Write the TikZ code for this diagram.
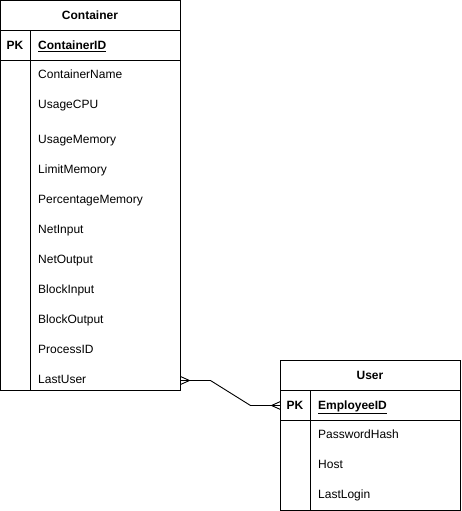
\documentclass[tikz,border=0pt]{standalone}
\usepackage{fontspec}
\setmainfont{Liberation Sans}
\usetikzlibrary{calc}

\tikzset{
  attr/.style={anchor=base west, inner sep=0pt, yshift=-4.3pt},
  keyattr/.style={attr, font=\fontsize{12}{14}\selectfont\bfseries},
  title/.style={anchor=base, inner sep=0pt, yshift=-4.3pt, font=\fontsize{12}{14}\selectfont\bfseries},
  edge/.style={line width=0.9pt}
}

\begin{document}
\begin{tikzpicture}[x=1pt, y=-1pt, font=\fontsize{12}{14}\selectfont]

\useasboundingbox (0,0) rectangle (462,511);

% ---- Coordinates ----
\coordinate (C0) at (0.5,0.5);      % container top left
\coordinate (C9) at (180.5,390.5);  % container bottom right
\coordinate (U0) at (280.5,360.5);  % user top left
\coordinate (U9) at (460.5,510.5);  % user bottom right

% ---- Container table ----
\draw[edge] (C0) rectangle (C9);
\draw[edge] (0.5,30.5) -- (180.5,30.5);
\draw[edge] (0.5,60.5) -- (180.5,60.5);
\draw[edge] (30.5,30.5) -- (30.5,390.5);

\node[title] (ctitle) at (90,15) {Container};
\node[title] (cpk) at (15,45) {PK};
\node[keyattr] (cid) at (38,45) {\underline{ContainerID}};

\foreach \name/\y in {ContainerName/74, UsageCPU/104, UsageMemory/139,
    LimitMemory/169, PercentageMemory/199, NetInput/229, NetOutput/259,
    BlockInput/289, BlockOutput/319, ProcessID/349, LastUser/379}
  \node[attr] (c-\name) at (38,\y) {\name};

% ---- User table ----
\draw[edge] (U0) rectangle (U9);
\draw[edge] (280.5,390.5) -- (460.5,390.5);
\draw[edge] (280.5,420.5) -- (460.5,420.5);
\draw[edge] (310.5,390.5) -- (310.5,510.5);

\node[title] (utitle) at (370,375) {User};
\node[title] (upk) at (295,405) {PK};
\node[keyattr] (uid) at (318,405) {\underline{EmployeeID}};

\foreach \name/\y in {PasswordHash/434, Host/464, LastLogin/494}
  \node[attr] (u-\name) at (318,\y) {\name};

% ---- Relation ----
\coordinate (R1) at (180.5,380.5);
\coordinate (R2) at (210.5,380.5);
\coordinate (R3) at (250.5,405.5);
\coordinate (R4) at (280.5,405.5);
\draw[edge] (R1) -- (R2) -- (R3) -- (R4);

% ---- Crow's feet (many) ----
\draw[edge] ($(R1)+(0,-4)$) -- ($(R1)+(9,0)$) -- ($(R1)+(0,4)$);
\draw[edge] ($(R4)+(0,-4)$) -- ($(R4)+(-9,0)$) -- ($(R4)+(0,4)$);

\end{tikzpicture}
\end{document}
